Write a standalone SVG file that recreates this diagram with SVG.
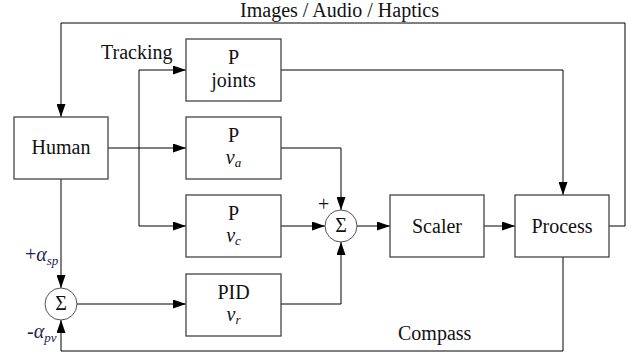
<svg xmlns="http://www.w3.org/2000/svg" width="631" height="356" viewBox="0 0 631 356">
<defs>
<marker id="ah" viewBox="0 0 13 9" refX="13" refY="4.5" markerWidth="13" markerHeight="9" markerUnits="userSpaceOnUse" orient="auto">
<path d="M0,0 L13,4.5 L0,9 Z" fill="#000"/>
</marker>
<style>
.box{fill:#fff;stroke:#444;stroke-width:1.3}
.sum{fill:#fff;stroke:#555;stroke-width:1}
.ln{fill:none;stroke:#000;stroke-width:1}
.lna{fill:none;stroke:#000;stroke-width:1;marker-end:url(#ah)}
text{font-size:20px;fill:#111}
.c{text-anchor:middle}
.it{font-style:italic}
.lab{fill:#1c2250}
.sub{font-size:13px;font-style:italic}
</style>
</defs>
<rect width="631" height="356" fill="#fff"/>
<g id="connectors">
<path class="lna" d="M625,226 L625,23 L61,23 L61,117"/>
<path class="ln" d="M609,226 L625,226"/>
<path class="lna" d="M108,148 L186,148"/>
<path class="lna" d="M139,226 L139,70 L186,70"/>
<path class="lna" d="M139,226 L186,226"/>
<path class="lna" d="M61,179 L61,288"/>
<path class="lna" d="M77,304 L186,304"/>
<path class="lna" d="M281,70 L563,70 L563,195"/>
<path class="lna" d="M281,148 L341,148 L341,210"/>
<path class="lna" d="M281,226 L325,226"/>
<path class="lna" d="M281,304 L341,304 L341,242"/>
<path class="lna" d="M357,226 L390,226"/>
<path class="lna" d="M484,226 L515,226"/>
<path class="lna" d="M563,257 L563,351 L61,351 L61,320"/>
</g>
<g font-family="'Liberation Serif', 'Times New Roman', serif">
<g id="human"><rect class="box" x="14" y="117" width="94" height="62"/><text class="c" x="61" y="154">Human</text></g>
<g id="p-joints"><rect class="box" x="186" y="39" width="95" height="62"/><text class="c" x="233.5" y="64">P</text><text class="c" x="233.5" y="87">joints</text></g>
<g id="p-va"><rect class="box" x="186" y="117" width="95" height="62"/><text class="c" x="233.5" y="142">P</text><text class="c" x="233.5" y="164"><tspan class="it">v</tspan><tspan class="sub" dy="3">a</tspan></text></g>
<g id="p-vc"><rect class="box" x="186" y="195" width="95" height="62"/><text class="c" x="233.5" y="220">P</text><text class="c" x="233.5" y="242"><tspan class="it">v</tspan><tspan class="sub" dy="3">c</tspan></text></g>
<g id="pid-vr"><rect class="box" x="186" y="274" width="95" height="62"/><text class="c" x="233.5" y="299">PID</text><text class="c" x="233.5" y="321"><tspan class="it">v</tspan><tspan class="sub" dy="3">r</tspan></text></g>
<g id="sum-right"><circle class="sum" cx="341" cy="226" r="16"/><text class="c" x="341" y="232" font-size="17">Σ</text><text x="318" y="211" font-size="12" fill="#c09a70">+</text></g>
<g id="sum-left"><circle class="sum" cx="61" cy="304" r="16"/><text class="c" x="61" y="310" font-size="17">Σ</text></g>
<g id="scaler"><rect class="box" x="390" y="195" width="94" height="62"/><text class="c" x="437" y="233">Scaler</text></g>
<g id="process"><rect class="box" x="515" y="195" width="94" height="62"/><text class="c" x="562" y="233">Process</text></g>
<g id="labels">
<text class="c" x="339.5" y="17">Images / Audio / Haptics</text>
<text x="101" y="59">Tracking</text>
<text x="398" y="340">Compass</text>
<text class="lab" x="25" y="261">+<tspan class="it">α</tspan><tspan class="sub" dy="4">sp</tspan></text>
<text class="lab" x="27" y="338">-<tspan class="it">α</tspan><tspan class="sub" dy="4">pv</tspan></text>
</g>
</g>
</svg>
